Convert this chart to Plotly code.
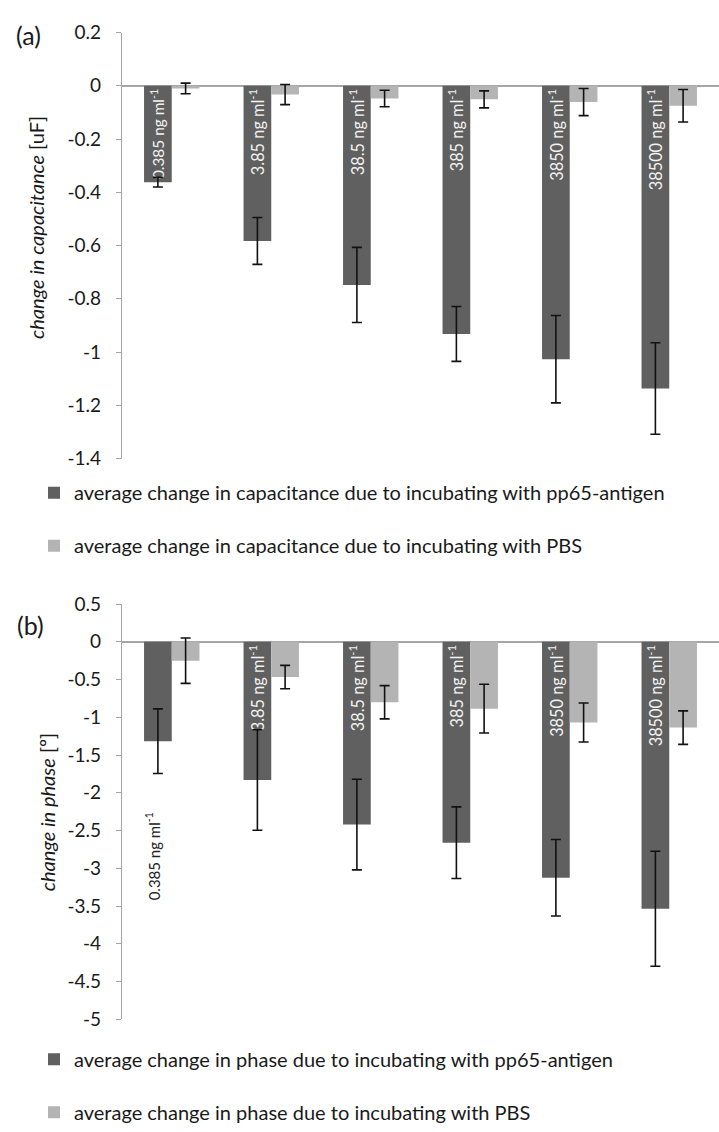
import plotly.graph_objects as go

# Concentrations of pp65 antigen (ng/ml)
concentrations = ["0.385", "3.85", "38.5", "385", "3850", "38500"]

# (a) change in capacitance [uF]
cap_pp65 = [-0.362, -0.583, -0.748, -0.932, -1.027, -1.137]
cap_pp65_err = [0.018, 0.088, 0.141, 0.103, 0.164, 0.172]
cap_pbs = [-0.010, -0.033, -0.048, -0.051, -0.061, -0.075]
cap_pbs_err = [0.020, 0.038, 0.031, 0.032, 0.051, 0.061]

# (b) change in phase [deg]
phase_pp65 = [-1.316, -1.830, -2.420, -2.660, -3.125, -3.535]
phase_pp65_err = [0.428, 0.665, 0.600, 0.474, 0.506, 0.762]
phase_pbs = [-0.250, -0.467, -0.800, -0.885, -1.068, -1.136]
phase_pbs_err = [0.300, 0.155, 0.220, 0.323, 0.258, 0.222]

cap_ticks = [0.2, 0, -0.2, -0.4, -0.6, -0.8, -1, -1.2, -1.4]
cap_ticktext = ["0.2", "0", "-0.2", "-0.4", "-0.6", "-0.8", "-1", "-1.2", "-1.4"]
phase_ticks = [0.5, 0, -0.5, -1, -1.5, -2, -2.5, -3, -3.5, -4, -4.5, -5]
phase_ticktext = ["0.5", "0", "-0.5", "-1", "-1.5", "-2", "-2.5", "-3", "-3.5", "-4", "-4.5", "-5"]

conc_labels = [f"{c} ng ml<sup>-1</sup>" for c in concentrations]

FONT = "Lato"
DARK = "#606060"
LIGHT = "#b4b4b4"
AXIS = "#a6a6a6"
TEXT = "#1a1a1a"
W, H = 719, 1132


def px_y(y):
    return 1 - y / H


def errbar(arr):
    return dict(type="data", array=arr, visible=True, color="#111111",
                thickness=1.6, width=5)


fig = go.Figure()

fig.add_trace(go.Bar(
    x=concentrations, y=cap_pp65, error_y=errbar(cap_pp65_err),
    marker=dict(color=DARK, line=dict(width=0)),
    name="average change in capacitance due to incubating with pp65-antigen",
    text=conc_labels, textposition="inside", insidetextanchor="start",
    textangle=-90, insidetextfont=dict(family=FONT, size=16.5, color="#f2f2f2"),
    xaxis="x", yaxis="y", legend="legend", legendgroup="a1",
))
fig.add_trace(go.Bar(
    x=concentrations, y=cap_pbs, error_y=errbar(cap_pbs_err),
    marker=dict(color=LIGHT, line=dict(width=0)),
    name="average change in capacitance due to incubating with PBS",
    xaxis="x", yaxis="y", legend="legend", legendgroup="a2",
))

phase_textpos = ["none"] + ["inside"] * (len(concentrations) - 1)
fig.add_trace(go.Bar(
    x=concentrations, y=phase_pp65, error_y=errbar(phase_pp65_err),
    marker=dict(color=DARK, line=dict(width=0)),
    name="average change in phase due to incubating with pp65-antigen",
    text=conc_labels, textposition=phase_textpos, insidetextanchor="start",
    textangle=-90, insidetextfont=dict(family=FONT, size=16.5, color="#f2f2f2"),
    xaxis="x2", yaxis="y2", legend="legend2", legendgroup="b1",
))
fig.add_trace(go.Bar(
    x=concentrations, y=phase_pbs, error_y=errbar(phase_pbs_err),
    marker=dict(color=LIGHT, line=dict(width=0)),
    name="average change in phase due to incubating with PBS",
    xaxis="x2", yaxis="y2", legend="legend2", legendgroup="b2",
))

x_dom = [122 / W, 1.0]
xaxis_common = dict(type="category", domain=x_dom, showticklabels=False,
                    showline=False, showgrid=False, zeroline=False, ticks="",
                    categoryorder="array", categoryarray=concentrations)
yaxis_common = dict(showgrid=False, showline=True, linecolor=AXIS, linewidth=1.3,
                    ticks="outside", ticklen=5, tickcolor=AXIS, tickwidth=1.3,
                    zeroline=True, zerolinecolor=AXIS, zerolinewidth=1.6,
                    tickfont=dict(family=FONT, size=19, color=TEXT),
                    ticklabelstandoff=11)

legend_common = dict(orientation="v", xanchor="left", yanchor="top",
                     font=dict(family=FONT, size=20, color=TEXT),
                     bgcolor="rgba(0,0,0,0)", tracegroupgap=24,
                     traceorder="grouped", itemclick=False)

fig.update_layout(
    width=W, height=H,
    margin=dict(l=0, r=0, t=0, b=0),
    paper_bgcolor="white", plot_bgcolor="white",
    barmode="group", bargap=0.443, bargroupgap=0,
    font=dict(family=FONT, color=TEXT),
    xaxis=dict(anchor="y", **xaxis_common),
    yaxis=dict(anchor="x", domain=[px_y(457), px_y(21)], range=[-1.4, 0.2],
               tickvals=cap_ticks, ticktext=cap_ticktext, **yaxis_common),
    xaxis2=dict(anchor="y2", **xaxis_common),
    yaxis2=dict(anchor="x2", domain=[px_y(1031), px_y(606)], range=[-5, 0.5],
                tickvals=phase_ticks, ticktext=phase_ticktext, **yaxis_common),
    legend=dict(x=34 / W, y=px_y(472), **legend_common),
    legend2=dict(x=34 / W, y=px_y(1052), **legend_common),
    showlegend=True,
)

centered = dict(showarrow=False, xanchor="center", yanchor="middle")
annotations = [
    # panel letters
    dict(text="(a)", x=29 / W, y=px_y(24), xref="paper", yref="paper",
         font=dict(family=FONT, size=25, color=TEXT), **centered),
    dict(text="(b)", x=30 / W, y=px_y(627), xref="paper", yref="paper",
         font=dict(family=FONT, size=25, color=TEXT), **centered),
    # axis titles
    dict(text="<i>change in capacitance</i> [uF]", x=36 / W, y=px_y(221),
         xref="paper", yref="paper", textangle=-90,
         font=dict(family=FONT, size=20, color=TEXT), **centered),
    dict(text="<i>change in phase</i> [º]", x=47 / W, y=px_y(819),
         xref="paper", yref="paper", textangle=-90,
         font=dict(family=FONT, size=20, color=TEXT), **centered),
    # lowest concentration label in (b), hung below the end of its error bar
    dict(text=conc_labels[0], x=0 - 0.19,
         y=phase_pp65[0] - phase_pp65_err[0], xref="x2", yref="y2",
         xanchor="center", yanchor="top", yshift=-37,
         textangle=-90, showarrow=False,
         font=dict(family=FONT, size=15, color="#222222")),
]
fig.update_layout(annotations=annotations)

fig.write_html("out.html")
